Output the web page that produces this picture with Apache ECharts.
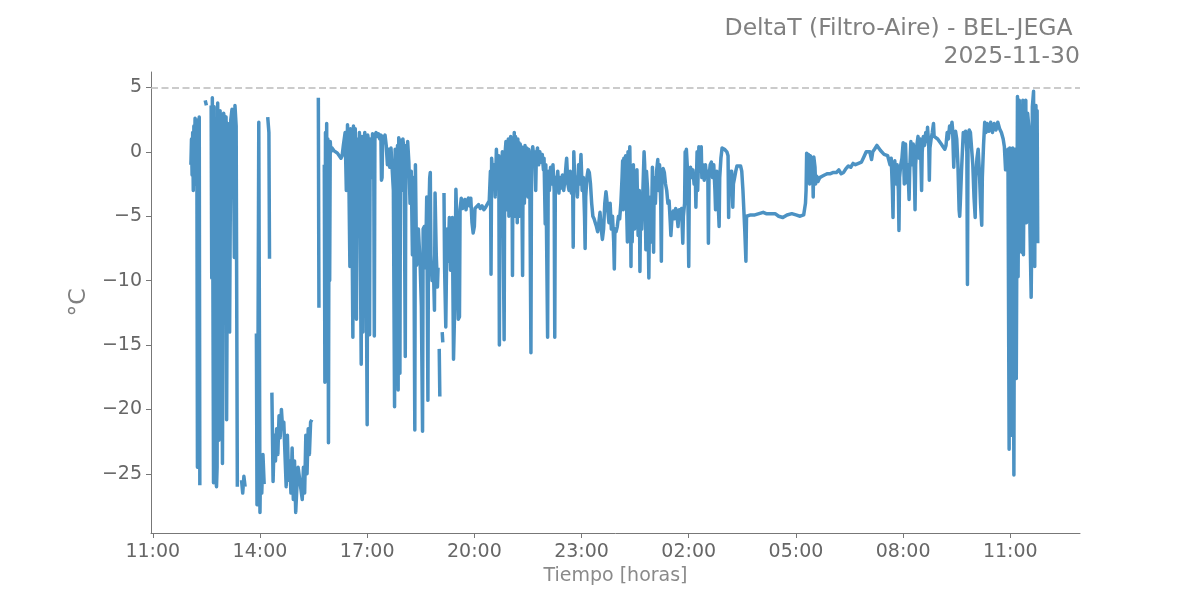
<!DOCTYPE html>
<html>
<head>
<meta charset="utf-8">
<script src="https://cdn.jsdelivr.net/npm/echarts@6/dist/echarts.min.js"></script>
<style>html,body{margin:0;padding:0;background:#fff}#chart{width:1200px;height:600px}</style>
</head>
<body>
<div id="chart"></div>
<script>
// Tiempo en minutos desde 2025-11-29 11:00 ; valor DeltaT en °C ; null = hueco
const tarde1 = [
[64,-1.0],[65,1.0],[66,-1.8],[67,1.5],[68,-3.0],[69,2.0],[70,-0.5],[71,2.6],[72,-2.5],[73,2.0],[74,1.0],[75,-24.5],[76,2.5],[77,-1.0],[78,2.7],[79,-25.9],[80,null],
[88,4.0],[90,3.6],[91,null],
[98,3.6],[99,-9.8],[100,4.2],[102,-25.7],[103,3.5],[105,-25.0],[107,-26.0],[108,-24.5],[109,3.8],[111,-22.4],[113,3.2],[115,1.0],[117,-24.2],[119,3.0],[121,2.2],[123,2.7],[124,-20.8],[126,2.2],[128,1.5],[129,-14.0],[131,2.5],[133,3.3],[135,2.5],[137,-8.2],[138,3.6],[140,2.0],[142,-26.0],[143,null],
[149,-25.5],[151,-26.5],[153,-25.2],[155,-26.0],[156,null],
[174,-14.1],[175,-27.4],[176,-25.0],[178,2.3],[180,-28.0],[181,-24.0],[183,-26.5],[185,-23.5],[187,-25.8],[188,null],
[193,2.7],[195,1.5],[196,-8.3],[197,null],
[200,-18.7],[202,-25.6],[204,-22.0],[206,-24.0],[208,-21.5],[210,-23.5],[212,-20.5],[214,-22.2],[216,-20.0],[218,-21.5],[220,-21.0],[224,-26.0],[226,-22.0],[228,-25.5],[230,-24.0],[232,-26.5],[234,-23.0],[236,-27.0],[238,-24.0],[240,-28.0],[242,-26.0],[244,-24.5],[251,-27.0],[253,-24.5],[255,-26.5],[257,-22.0],[259,-25.0],[261,-21.5],[263,-23.5],[265,-21.0],[267,-20.8],[268,null]
];
const tarde2 = [
[278,4.2],[279,-12.1],[280,null],
[288,-1.0],[289,-17.9],[290,1.5],[291,-13.0],[292,2.2],[293,-17.5],[294,1.0],[295,-22.6],[296,0.5],[297,-10.0],[298,0.8],[299,0.0],[301,0.3],[304,0.1],[307,0.2],[310,-0.1],[313,0.0],[316,-0.5],[318,-0.3],[320,0.5],
[323,1.5],[325,-3.0],[327,2.1],[329,-1.0],[331,-8.9],[332,1.8],[334,-2.0],[336,-14.4],[337,2.0],[339,-1.5],[340,1.8],[342,-13.0],[343,1.0],[345,-2.5],[347,1.5],[350,-16.5],[351,1.2],[353,-14.0],[354,0.5],[356,1.5],[358,-5.0],[360,-21.2],[361,1.3],[363,0.5],[364,-14.2],[365,1.0],[367,-2.0],[369,1.4],[371,0.0],[372,-14.3],[373,1.3],[375,1.5],[377,1.2],[379,1.4],[381,1.0],[383,1.3],[384,-2.2],[385,-2.0],[386,1.2],[388,1.0],[390,1.3],[392,0.5],[394,-1.0],[396,0.2],[398,-1.2],[400,0.3],
[402,0.4],[404,-3.0],[406,-19.8],[407,0.2],[409,-5.0],[411,0.5],[412,-18.5],[413,1.1],[415,-17.2],[416,0.9],[418,-3.0],[420,1.0],[422,0.0],[424,-15.9],[425,0.5],[427,-1.0],[428,0.8],[430,-0.8],[432,-4.0],[434,-1.5],[436,-8.0],[438,-2.0],[440,-21.6],[441,-1.0],[443,-8.8],
[446,-6.0],[449,-8.8],[451,-12.0],[453,-21.7],[454,-6.0],[456,-5.8],[458,-9.0],[460,-3.5],[462,-19.3],[463,-6.0],[465,-2.0],[466,-1.6],[467,-8.0],[469,-10.0],[471,-8.6],[473,-12.3],[474,-3.2],[476,-8.0],[478,-10.5],[479,-9.0],[480,null],[481,-15.3],[482,-19.0],[483,null],[486,-14.0],[487,-14.8],[488,null],
[489,-3.2],[490,-9.0],[492,-13.6],[494,-6.0],[496,-8.5],[498,-5.1],[500,-9.2],[502,-6.0],[503,-5.1],[505,-16.1],[507,-12.0],[509,-2.9],[511,-6.0],[513,-13.0],[515,-12.8],[516,-4.5],[518,-3.6],[520,-4.4],[522,-4.0],[524,-3.7],[526,-4.5],[528,-3.8],[530,-3.6],[532,-4.2],[534,-3.6],[536,-5.5],[538,-6.3],[540,-5.8]
];
const noche = [
[541,-4.4],[544,-4.4],[547,-4.1],[550,-4.4],[553,-4.2],[556,-4.5],[559,-4.3],[562,-4.2],[565,-3.8],[567,-1.5],[568,-9.5],[569,-0.5],[571,-2.0],[573,-1.0],[575,-3.5],[577,0.2],[579,-2.0],[581,-0.3],[582,-15.0],[583,-1.0],[585,-3.0],[587,0.0],[588,-4.0],[590,-14.6],[591,-0.5],
[593,0.8],[594,-4.5],[595,0.5],[596,-3.0],[597,1.0],[598,-5.0],[599,0.6],[600,-2.0],[601,1.2],[602,-4.0],[603,0.5],[604,-9.6],[605,1.0],[606,-3.5],[607,1.5],[608,-5.0],[609,1.2],[610,-2.5],[611,0.8],[612,-5.5],[613,1.0],[614,-1.5],[615,0.7],[616,-5.0],[617,0.6],[618,-3.0],[619,0.4],[621,-9.6],[622,0.3],
[624,-4.0],[625,0.5],[627,-2.0],[628,0.3],[630,-3.5],[631,0.2],[633,-1.5],[635,-15.6],[636,-0.3],[638,0.4],[640,-0.5],[641,0.0],[643,-3.0],[644,-0.5],[646,0.3],[648,-1.0],[650,0.0],[652,-0.8],[654,-0.2],[656,-1.4],[657,-0.5],[659,-5.6],[660,-1.0],[663,-14.4],[664,-1.5],[666,-3.0],[668,-1.2],[670,-2.5],[672,-1.0],[674,-3.0],[675,-14.4],[676,-2.0],
[678,-3.0],[680,-1.5],[682,-3.2],[684,-2.0],[686,-2.8],[688,-1.8],[690,-3.0],[692,-2.2],[694,-1.0],[695,-0.5],[697,-2.5],[699,-3.0],[701,-1.5],[703,-3.2],[705,-2.0],[706,-7.4],[707,0.0],[709,-3.0],[711,-2.0],[713,-3.5],[715,-1.0],[717,-2.5],[719,-0.2],[721,-3.0],[723,-2.0],[725,-5.0],[726,-7.5],[727,-3.5],[729,-2.0],[731,-1.4],[733,-1.6],[735,-2.5],[737,-4.0],[739,-5.0],
[741,-5.2],[743,-5.5],[745,-5.8],[747,-6.2],[749,-5.5],[751,-4.7],[753,-6.0],[755,-6.8],[757,-6.0],[759,-4.0],[761,-3.1],[762,-3.5],[764,-4.5],[766,-5.5],[768,-4.0],[770,-6.0],[772,-5.0],[774,-7.0],[775,-9.1],[776,-6.0],[778,-6.2],[780,-5.8],[782,-5.0],[784,-5.2],[786,-4.0],[788,-2.0],[789,-0.7],[790,-4.5],[791,-0.5],[793,-3.5],[794,-0.3],[796,-5.0],[797,-7.0],[798,0.0],[800,-5.0],[801,0.4],[802,-3.0],[803,-8.9],[804,-1.5],[805,-7.0],
[807,-1.0],[809,-6.0],[810,-2.0],[812,-4.5],[813,-1.4],[815,-6.5],[817,-3.0],[818,-9.3],[819,-5.0],[821,-6.0],[823,-3.0],[825,0.0],[826,-1.0],[828,-7.6],[829,-1.5],[831,-3.0],[833,-9.8],[834,-5.0],[836,-3.5],[837,-7.0],[839,-1.2],[841,-7.8],[842,-2.0],[844,-4.0],[846,-1.5],[848,-0.6],[849,-3.0],[851,-1.0],[853,-4.0],[854,-8.5],[855,-2.0],[857,-1.3],[859,-1.6],[861,-2.5],[863,-3.0],[865,-4.0],[867,-3.8],
[869,-5.5],[870,-6.5],[872,-5.0],[874,-4.6],[876,-5.2],[878,-4.4],[880,-4.8],[882,-5.8],[884,-4.5],[886,-4.7],[888,-4.4],[890,-7.1],[891,-5.0],[893,-4.0],[894,0.0],[895,-2.0],[896,0.2],[898,-1.5],[900,-8.9],[901,-2.0],[903,-1.2],[905,-2.0],[907,-1.4],[909,-2.5],[911,-1.8],[912,-4.3],[913,-2.0],[914,0.0],[915,-3.0],[917,0.4],[919,-1.5],[921,0.4],[922,-2.0],[924,-1.0],[926,-2.2],[928,-1.0],[930,-2.0],[932,-1.5],[933,-7.1],[934,-2.0],[936,-1.0],[938,-0.8],[940,-2.0],[942,-1.0],[944,-3.0],[945,-4.5],[947,-1.5],[949,-3.5],[951,-5.8],[952,-2.0],[954,-0.5],[956,0.3],[958,0.2],[960,0.2],[962,0.1],[964,0.0],[966,-0.3],[967,-5.1],[968,-1.5],[970,-2.0],[972,-1.5],[974,-4.3],[975,-2.5],[977,-2.0],[979,-1.5],[981,-1.1],[984,-1.0],[987,-1.1],[989,-1.5],[991,-3.0],[992,-4.0],[994,-6.0],[996,-8.5],[997,-5.0]
];
const madrugada = [
[999,-5.0],[1004,-4.9],[1011,-4.9],[1018,-4.8],[1025,-4.7],[1030,-4.8],[1036,-4.8],[1045,-4.8],[1051,-5.0],[1058,-5.1],[1065,-4.9],[1073,-4.8],[1080,-4.9],[1087,-5.0],[1093,-4.9],
[1096,-4.0],[1097,-3.0],[1098,-0.1],[1100,-1.0],[1101,-0.2],[1103,-2.5],[1104,-0.3],[1106,-0.5],[1108,-1.0],[1109,-3.5],[1110,-0.4],[1112,-1.2],[1113,-2.5],[1115,-1.9],[1117,-2.3],[1120,-2.0],[1124,-1.9],[1128,-1.8],[1133,-1.7],[1138,-1.7],[1143,-1.6],[1148,-1.6],[1152,-1.4],[1156,-1.7],[1160,-1.6],[1164,-1.3],[1168,-1.1],[1172,-1.2],[1176,-0.9],[1180,-1.0],[1185,-0.9],[1190,-0.8],[1195,-0.3],[1198,0.0],[1201,0.1],[1204,0.0],[1207,-0.6],[1209,0.0],[1212,0.2],[1216,0.5],[1219,0.3],[1222,0.1],[1225,0.0],[1228,-0.2],[1231,-0.1],[1234,-0.3],[1236,-0.2]
];
const manana = [
[1238,-1.0],[1240,-0.5],[1242,-3.0],[1243,-5.1],[1244,-1.5],[1246,-0.7],[1248,-2.5],[1250,-1.0],[1252,-3.0],[1253,-6.1],[1254,-2.0],[1256,-1.0],[1258,-0.5],[1260,0.7],[1262,-2.5],[1264,0.6],[1266,-2.4],[1268,-1.0],[1270,-3.7],[1271,-1.5],[1273,0.8],[1275,-1.0],[1277,0.6],[1279,-2.0],[1280,-4.5],[1281,-1.0],[1283,0.5],[1285,1.2],[1287,-0.5],[1289,1.0],[1291,-3.0],[1292,0.0],[1294,1.2],[1296,0.5],[1298,1.5],[1300,0.8],[1301,1.9],[1303,0.5],[1304,-2.2],[1305,0.3],[1307,1.0],[1309,1.5],[1311,2.2],[1312,1.2],[1315,1.3],[1318,1.0],[1321,0.8],[1324,0.6],[1327,0.4],[1330,0.2],[1332,0.5],[1334,1.5],[1336,1.0],[1338,2.0],[1340,1.5],[1342,2.3],[1343,1.8],[1345,-1.2],[1346,0.5],[1348,1.6],[1350,1.0],[1352,-1.0],[1354,-4.5],[1355,-5.0],[1356,-4.0],[1358,-1.5],[1360,0.5],[1361,1.5],[1363,1.2],[1365,1.6],[1367,0.0],[1368,-10.3],[1369,1.0],[1371,1.7],[1373,1.5],[1375,1.6],[1377,-1.0],[1379,-3.5],[1381,-5.1],[1382,-2.0],[1384,-0.5],[1386,0.2],[1388,-1.5],[1390,-4.0],[1392,-5.7],[1393,-2.0],[1395,0.5],[1397,2.3],[1399,1.5],[1401,2.2],[1404,1.6],[1407,2.3],[1410,1.5],[1413,2.2],[1416,1.7],[1419,2.3],[1422,1.8],[1425,1.5],[1428,1.0],[1430,0.4],[1432,-1.4],[1434,0.0],[1436,0.2],
[1438,-23.1],[1439,0.3],[1440,-20.0],[1441,0.0],[1443,-22.0],[1444,0.3],[1446,-25.1],[1447,-5.0],[1448,0.2],[1450,-17.6],[1452,4.3],[1453,-9.7],[1455,4.0],[1456,-5.5],[1458,3.5],[1459,-7.8],[1461,4.0],[1462,-8.0],[1464,3.8],[1466,4.0],[1467,-5.5],[1469,3.0],[1471,2.0],[1473,-6.0],[1475,-11.3],[1476,-6.5],[1477,3.5],[1479,4.7],[1480,-4.0],[1481,-8.9],[1482,3.0],[1483,3.6],[1484,-3.0],[1485,3.2],[1486,-7.1]
];

const tickMinutes = [0, 180, 360, 540, 720, 900, 1080, 1260, 1440];
const tickLabels = ['11:00', '14:00', '17:00', '20:00', '23:00', '02:00', '05:00', '08:00', '11:00'];
const yTicks = [-25, -20, -15, -10, -5, 0, 5];
const limite = 5;

const serie = [].concat(tarde1, tarde2, noche, madrugada, manana);

const FONT = 'DejaVu Sans';
const chart = echarts.init(document.getElementById('chart'), null, {renderer: 'canvas'});
chart.setOption({
  animation: false,
  backgroundColor: '#ffffff',
  textStyle: {fontFamily: FONT},
  title: [
    {text: 'DeltaT (Filtro-Aire) - BEL-JEGA ', right: 120, top: 17, padding: 0,
     textStyle: {fontFamily: FONT, fontSize: 23.5, fontWeight: 'normal', color: '#808080'}},
    {text: '2025-11-30', right: 120, top: 45, padding: 0,
     textStyle: {fontFamily: FONT, fontSize: 23.5, fontWeight: 'normal', color: '#808080'}}
  ],
  grid: {left: 151, right: 120, top: 72, bottom: 67},
  xAxis: {
    type: 'value', min: -3, max: 1557,
    name: 'Tiempo [horas]', nameLocation: 'middle', nameGap: 34,
    nameTextStyle: {fontFamily: FONT, fontSize: 19, color: '#8a8a8a'},
    axisLine: {show: true, onZero: false, lineStyle: {color: '#777777', width: 1}},
    axisTick: {show: true, customValues: tickMinutes, length: 5, lineStyle: {color: '#777777'}},
    axisLabel: {customValues: tickMinutes, margin: 10, fontFamily: FONT, fontSize: 19, color: '#666666',
      formatter: v => tickLabels[tickMinutes.indexOf(v)]},
    splitLine: {show: false}
  },
  yAxis: {
    type: 'value', min: -29.6, max: 6.2,
    name: '°C', nameLocation: 'middle', nameGap: 55, nameRotate: 90,
    nameTextStyle: {fontFamily: FONT, fontSize: 23.5, color: '#808080'},
    axisLine: {show: true, onZero: false, lineStyle: {color: '#777777', width: 1}},
    axisTick: {show: true, customValues: yTicks, length: 5, lineStyle: {color: '#777777'}},
    axisLabel: {customValues: yTicks, margin: 9, fontFamily: FONT, fontSize: 19, color: '#666666',
      formatter: v => String(v).replace('-', '\u2212')},
    splitLine: {show: false}
  },
  series: [{
    type: 'line',
    data: serie,
    showSymbol: false,
    symbol: 'none',
    connectNulls: false,
    lineStyle: {color: '#4c92c3', width: 3.5, join: 'round'},
    markLine: {
      silent: true, symbol: 'none',
      label: {show: false},
      lineStyle: {color: '#bbbbbb', type: [7, 3.5], width: 1.6},
      data: [{yAxis: limite}]
    }
  }]
});
</script>
</body>
</html>
